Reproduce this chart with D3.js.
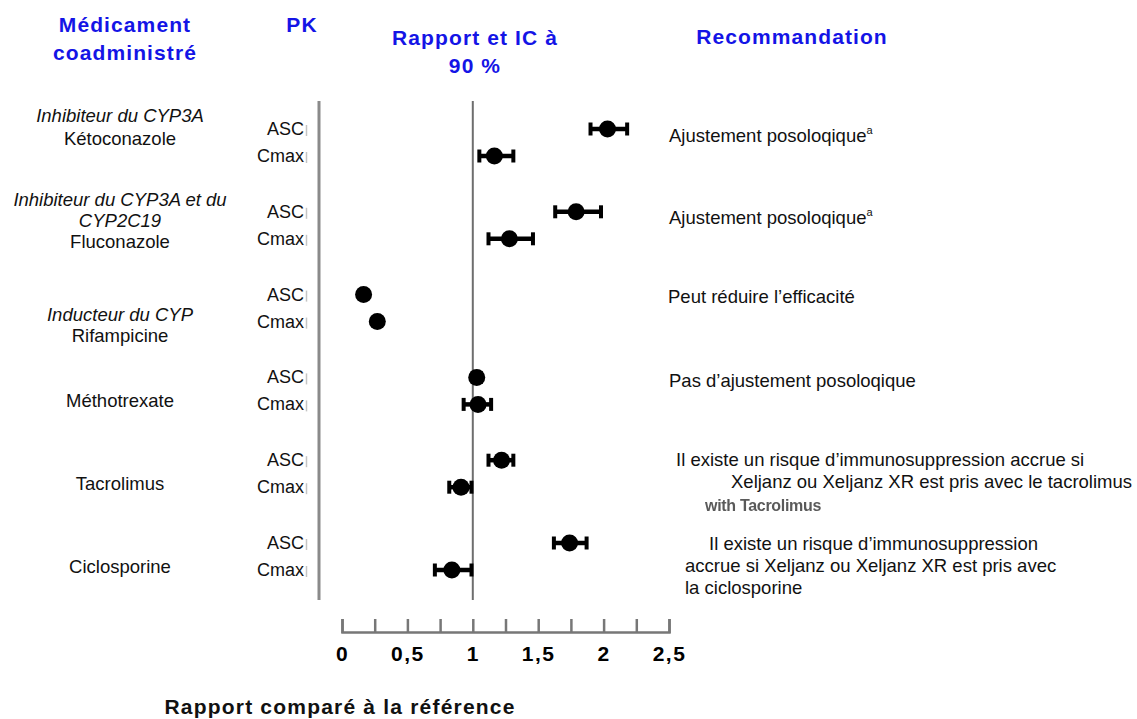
<!DOCTYPE html>
<html><head><meta charset="utf-8">
<script src="https://cdn.jsdelivr.net/npm/d3@7"></script>
<style>
body{margin:0;background:#fff;}
svg{display:block;font-family:"Liberation Sans",Arial,sans-serif;}
</style></head>
<body><svg id="c" width="1137" height="719"></svg>
<script>
// ---- data ----
const drugs = ["Kétoconazole","Fluconazole","Rifampicine","Méthotrexate","Tacrolimus","Ciclosporine"];
const drugClass = [["Inhibiteur du CYP3A"],["Inhibiteur du CYP3A et du","CYP2C19"],["Inducteur du CYP"],[],[],[]];
const params = ["ASC","Cmax"];
const ascRatio = [2.03, 1.79, 0.165, 1.03, 1.22, 1.74];
const ascLow   = [1.90, 1.63, 0.15, 1.00, 1.12, 1.62];
const ascHigh  = [2.18, 1.98, 0.18, 1.06, 1.31, 1.87];
const cmaxRatio = [1.165, 1.28, 0.27, 1.04, 0.91, 0.84];
const cmaxLow   = [1.05, 1.12, 0.25, 0.93, 0.82, 0.71];
const cmaxHigh  = [1.31, 1.46, 0.29, 1.14, 0.99, 0.99];
const recommendations = [
  ["Ajustement posoloqique|a"],
  ["Ajustement posoloqique|a"],
  ["Peut réduire l’efficacité"],
  ["Pas d’ajustement posoloqique"],
  ["Il existe un risque d’immunosuppression accrue si","Xeljanz ou Xeljanz XR est pris avec le tacrolimus"],
  ["Il existe un risque d’immunosuppression","accrue si Xeljanz ou Xeljanz XR est pris avec","la ciclosporine"]
];
const tickValues = [0,0.25,0.5,0.75,1,1.25,1.5,1.75,2,2.25,2.5];
const tickLabels = {0:"0",0.5:"0,5",1:"1",1.5:"1,5",2:"2",2.5:"2,5"};
const refValue = 1;

// ---- build ----
const svg = d3.select("#c");
const blue = "#1414e6";
const ink = "#111";
const x = d3.scaleLinear().domain([0,2.5]).range([342,669]);
const y = d3.scalePoint().domain(drugs).range([143,557]);
const off = {ASC:-14, Cmax:13};

// headers
const hdr = svg.append("g").attr("fill",blue).attr("font-weight","bold").attr("font-size",21)
  .attr("letter-spacing",1.1).attr("text-anchor","middle");
hdr.append("text").attr("x",125).attr("y",32).text("Médicament");
hdr.append("text").attr("x",125).attr("y",60).text("coadministré");
hdr.append("text").attr("x",302).attr("y",32).text("PK");
hdr.append("text").attr("x",475).attr("y",45).text("Rapport et IC à");
hdr.append("text").attr("x",475).attr("y",73).text("90 %");
hdr.append("text").attr("x",792).attr("y",44).text("Recommandation");

// vertical lines
svg.append("line").attr("x1",319).attr("x2",319).attr("y1",101).attr("y2",600)
  .attr("stroke","#8a8a8a").attr("stroke-width",3);
svg.append("line").attr("x1",x(refValue)).attr("x2",x(refValue)).attr("y1",101).attr("y2",600)
  .attr("stroke","#6e6e6e").attr("stroke-width",2);

// left labels (per-group vertical layout offsets)
const labelStart = [-21,-20,12,16,16,16];
const labelStep = [23,21,21,21,21,21];
drugs.forEach((d,i)=>{
  const cls = drugClass[i];
  const g = svg.append("g").attr("font-size",18.5).attr("fill",ink).attr("text-anchor","middle");
  const lines = cls.map(t=>({t,it:true})).concat([{t:d,it:false}]);
  lines.forEach((l,k)=>{
    g.append("text").attr("x",120).attr("y",y(d) + labelStart[i] + k*labelStep[i])
      .attr("font-style",l.it?"italic":"normal").text(l.t);
  });
  params.forEach(p=>{
    const yy = y(d)+off[p];
    svg.append("text").attr("x",304).attr("y",yy+6).attr("text-anchor","end")
      .attr("font-size",18).attr("fill",ink).text(p);
    svg.append("line").attr("x1",306.5).attr("x2",306.5).attr("y1",yy-4).attr("y2",yy+7)
      .attr("stroke","#c4c4c4").attr("stroke-width",1.5);
  });
});

// points and CIs
const rows = [];
drugs.forEach((d,i)=>{
  rows.push({d,p:"ASC",v:ascRatio[i],lo:ascLow[i],hi:ascHigh[i]});
  rows.push({d,p:"Cmax",v:cmaxRatio[i],lo:cmaxLow[i],hi:cmaxHigh[i]});
});
const pg = svg.append("g");
rows.forEach(r=>{
  const yy = y(r.d)+off[r.p];
  pg.append("line").attr("x1",x(r.lo)).attr("x2",x(r.hi)).attr("y1",yy).attr("y2",yy)
    .attr("stroke","#000").attr("stroke-width",4.5);
  [r.lo,r.hi].forEach(e=>pg.append("line").attr("x1",x(e)).attr("x2",x(e)).attr("y1",yy-6.5).attr("y2",yy+6.5)
    .attr("stroke","#000").attr("stroke-width",4));
  pg.append("circle").attr("cx",x(r.v)).attr("cy",yy).attr("r",8.5).attr("fill","#000");
});

// recommendations
const recX = [669,669,668,669,676,709];
const recShift = [[0],[0],[0],[0],[0,55],[0,-24,-24]];
const recBase = [-8,-8,-12,-11,-15,-14];
drugs.forEach((d,i)=>{
  const lines = recommendations[i];
  lines.forEach((t,k)=>{
    const [main,sup] = t.split("|");
    const tx = svg.append("text").attr("x",recX[i]+recShift[i][k]).attr("y",y(d)+recBase[i]+k*22+6.5)
      .attr("font-size",18.5).attr("fill",ink).text(main);
    if(sup) tx.append("tspan").attr("font-size",11).attr("dy",-8).text(sup);
  });
});
svg.append("text").attr("x",705).attr("y",511).attr("font-size",16).attr("font-weight","bold")
  .attr("letter-spacing",-0.3).attr("fill","#5a5a5a")
  .attr("style","filter:blur(0.6px)").text("with Tacrolimus");

// axis
const axis = d3.axisBottom(x).tickValues(tickValues).tickSize(14).tickSizeOuter(14)
  .tickFormat(v=>tickLabels[v]||"").tickPadding(13);
const ag = svg.append("g").attr("transform","translate(0,619)").call(axis);
ag.select(".domain").attr("transform","translate(0,14) scale(1,-1)").attr("stroke","#777").attr("stroke-width",2.5);
ag.selectAll(".tick line").attr("stroke","#777").attr("stroke-width",2.5);
ag.selectAll(".tick text").attr("font-size",21).attr("font-weight","bold").attr("fill","#000")
  .attr("letter-spacing",1.5).attr("font-family","Liberation Sans, Arial, sans-serif");
svg.append("text").attr("x",340).attr("y",714).attr("text-anchor","middle").attr("font-size",21)
  .attr("letter-spacing",1.2).attr("font-weight","bold").attr("fill",ink).text("Rapport comparé à la référence");
</script></body></html>
